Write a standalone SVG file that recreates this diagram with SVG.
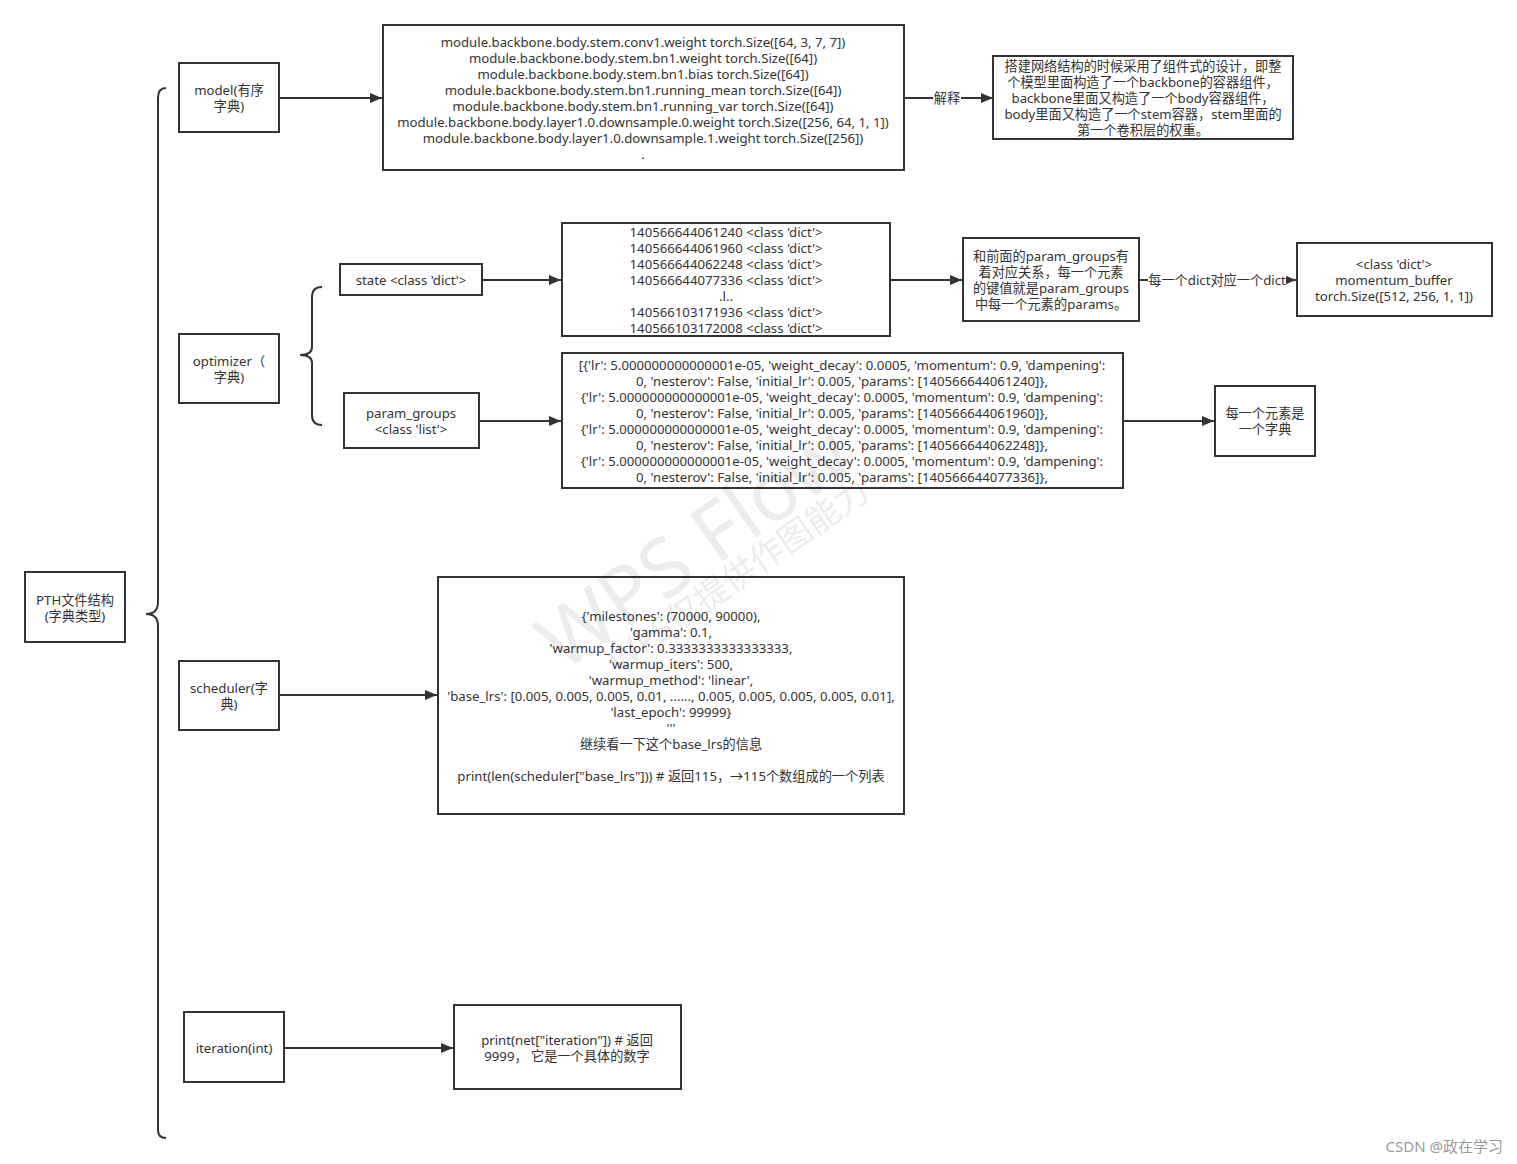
<svg xmlns="http://www.w3.org/2000/svg" width="1517" height="1164" viewBox="0 0 1517 1164">
<style>
.box{fill:#fff;stroke:#333;stroke-width:2}
.t{font-family:"Noto Sans","Noto Sans CJK SC",sans-serif;font-size:13.2px;fill:#333;text-anchor:middle;dominant-baseline:central}
.ln{fill:none;stroke:#333;stroke-width:2}
.wm{font-family:"Noto Sans","Noto Sans CJK SC",sans-serif;fill:#000;opacity:0.07;text-anchor:middle}
</style>
<defs>
<marker id="ah" viewBox="0 0 12 10" refX="12" refY="5" markerWidth="12" markerHeight="10" markerUnits="userSpaceOnUse" orient="auto">
<path d="M0,0 L12,5 L0,10 Z" fill="#333"/>
</marker>
</defs>
<rect width="1517" height="1164" fill="#fff"/>

<g id="connectors">
<path class="ln" d="M166,88 Q158,88 158,98 L158,602 Q158,614 146,614 Q158,614 158,626 L158,1130 Q158,1138 166,1138"/>
<path class="ln" d="M322,287 Q312,287 312,297 L312,347 Q312,355 300,355 Q312,355 312,363 L312,415 Q312,425 322,425"/>
<line class="ln" x1="279" y1="98" x2="382" y2="98" marker-end="url(#ah)"/>
<line class="ln" x1="904" y1="98" x2="993" y2="98" marker-end="url(#ah)"/>
<rect x="933" y="90" width="28" height="16" fill="#fff"/>
<text class="t" x="947" y="98">解释</text>
<line class="ln" x1="482" y1="280" x2="561" y2="280" marker-end="url(#ah)"/>
<line class="ln" x1="890" y1="280" x2="962" y2="280" marker-end="url(#ah)"/>
<line class="ln" x1="1139" y1="280" x2="1296" y2="280" marker-end="url(#ah)"/>
<rect x="1148" y="272" width="138" height="16" fill="#fff"/>
<text class="t" x="1217" y="280">每一个dict对应一个dict</text>
<line class="ln" x1="479" y1="421" x2="561" y2="421" marker-end="url(#ah)"/>
<line class="ln" x1="1123" y1="421" x2="1214" y2="421" marker-end="url(#ah)"/>
<line class="ln" x1="279" y1="695" x2="437" y2="695" marker-end="url(#ah)"/>
<line class="ln" x1="284" y1="1048" x2="453" y2="1048" marker-end="url(#ah)"/>
</g>

<g id="pth">
<rect class="box" x="25" y="572" width="100" height="70"/>
<text class="t" x="75" y="600">PTH文件结构</text>
<text class="t" x="75" y="616">(字典类型)</text>
</g>

<g id="model">
<rect class="box" x="179" y="63" width="100" height="69"/>
<text class="t" x="229" y="90">model(有序</text>
<text class="t" x="229" y="106">字典)</text>
</g>

<g id="model-content">
<rect class="box" x="383" y="25" width="521" height="145"/>
<text class="t" x="643" y="42">module.backbone.body.stem.conv1.weight torch.Size([64, 3, 7, 7])</text>
<text class="t" x="643" y="58">module.backbone.body.stem.bn1.weight torch.Size([64])</text>
<text class="t" x="643" y="74">module.backbone.body.stem.bn1.bias torch.Size([64])</text>
<text class="t" x="643" y="90">module.backbone.body.stem.bn1.running_mean torch.Size([64])</text>
<text class="t" x="643" y="106">module.backbone.body.stem.bn1.running_var torch.Size([64])</text>
<text class="t" x="643" y="122">module.backbone.body.layer1.0.downsample.0.weight torch.Size([256, 64, 1, 1])</text>
<text class="t" x="643" y="138">module.backbone.body.layer1.0.downsample.1.weight torch.Size([256])</text>
<text class="t" x="643" y="154">.</text>
</g>

<g id="model-explain">
<rect class="box" x="993" y="56" width="300" height="83"/>
<text class="t" x="1143" y="66">搭建网络结构的时候采用了组件式的设计，即整</text>
<text class="t" x="1143" y="82">个模型里面构造了一个backbone的容器组件，</text>
<text class="t" x="1143" y="98">backbone里面又构造了一个body容器组件，</text>
<text class="t" x="1143" y="114">body里面又构造了一个stem容器，stem里面的</text>
<text class="t" x="1143" y="130">第一个卷积层的权重。</text>
</g>

<g id="optimizer">
<rect class="box" x="179" y="334" width="100" height="69"/>
<text class="t" x="229" y="361">optimizer（</text>
<text class="t" x="229" y="377">字典)</text>
</g>

<g id="state">
<rect class="box" x="340" y="264" width="142" height="31"/>
<text class="t" x="411" y="280">state &lt;class 'dict'&gt;</text>
</g>

<g id="state-content">
<rect class="box" x="562" y="223" width="328" height="113"/>
<text class="t" x="726" y="232">140566644061240 &lt;class 'dict'&gt;</text>
<text class="t" x="726" y="248">140566644061960 &lt;class 'dict'&gt;</text>
<text class="t" x="726" y="264">140566644062248 &lt;class 'dict'&gt;</text>
<text class="t" x="726" y="280">140566644077336 &lt;class 'dict'&gt;</text>
<text class="t" x="726" y="296">.l..</text>
<text class="t" x="726" y="312">140566103171936 &lt;class 'dict'&gt;</text>
<text class="t" x="726" y="328">140566103172008 &lt;class 'dict'&gt;</text>
</g>

<g id="state-relation">
<rect class="box" x="963" y="238" width="176" height="83"/>
<text class="t" x="1051" y="256">和前面的param_groups有</text>
<text class="t" x="1051" y="272">着对应关系，每一个元素</text>
<text class="t" x="1051" y="288">的键值就是param_groups</text>
<text class="t" x="1051" y="304">中每一个元素的params。</text>
</g>

<g id="state-dict">
<rect class="box" x="1297" y="243" width="195" height="73"/>
<text class="t" x="1394" y="264">&lt;class 'dict'&gt;</text>
<text class="t" x="1394" y="280">momentum_buffer</text>
<text class="t" x="1394" y="296">torch.Size([512, 256, 1, 1])</text>
</g>

<g id="param-groups">
<rect class="box" x="344" y="393" width="135" height="55"/>
<text class="t" x="411" y="413">param_groups</text>
<text class="t" x="411" y="429">&lt;class 'list'&gt;</text>
</g>

<g id="param-groups-content">
<rect class="box" x="562" y="353" width="561" height="135"/>
<text class="t" x="842" y="365">[{'lr': 5.000000000000001e-05, 'weight_decay': 0.0005, 'momentum': 0.9, 'dampening':</text>
<text class="t" x="842" y="381">0, 'nesterov': False, 'initial_lr': 0.005, 'params': [140566644061240]},</text>
<text class="t" x="842" y="397">{'lr': 5.000000000000001e-05, 'weight_decay': 0.0005, 'momentum': 0.9, 'dampening':</text>
<text class="t" x="842" y="413">0, 'nesterov': False, 'initial_lr': 0.005, 'params': [140566644061960]},</text>
<text class="t" x="842" y="429">{'lr': 5.000000000000001e-05, 'weight_decay': 0.0005, 'momentum': 0.9, 'dampening':</text>
<text class="t" x="842" y="445">0, 'nesterov': False, 'initial_lr': 0.005, 'params': [140566644062248]},</text>
<text class="t" x="842" y="461">{'lr': 5.000000000000001e-05, 'weight_decay': 0.0005, 'momentum': 0.9, 'dampening':</text>
<text class="t" x="842" y="477">0, 'nesterov': False, 'initial_lr': 0.005, 'params': [140566644077336]},</text>
</g>

<g id="param-groups-note">
<rect class="box" x="1215" y="386" width="100" height="70"/>
<text class="t" x="1265" y="413">每一个元素是</text>
<text class="t" x="1265" y="429">一个字典</text>
</g>

<g id="scheduler">
<rect class="box" x="179" y="661" width="100" height="69"/>
<text class="t" x="229" y="688">scheduler(字</text>
<text class="t" x="229" y="704">典)</text>
</g>

<g id="scheduler-content">
<rect class="box" x="438" y="577" width="466" height="237"/>
<text class="t" x="671" y="616">{'milestones': (70000, 90000),</text>
<text class="t" x="671" y="632">'gamma': 0.1,</text>
<text class="t" x="671" y="648">'warmup_factor': 0.3333333333333333,</text>
<text class="t" x="671" y="664">'warmup_iters': 500,</text>
<text class="t" x="671" y="680">'warmup_method': 'linear',</text>
<text class="t" x="671" y="696">'base_lrs': [0.005, 0.005, 0.005, 0.01, ......, 0.005, 0.005, 0.005, 0.005, 0.01],</text>
<text class="t" x="671" y="712">'last_epoch': 99999}</text>
<text class="t" x="671" y="728">'''</text>
<text class="t" x="671" y="744">继续看一下这个base_lrs的信息</text>
<text class="t" x="671" y="776">print(len(scheduler["base_lrs"])) # 返回115，→115个数组成的一个列表</text>
</g>

<g id="iteration">
<rect class="box" x="184" y="1012" width="100" height="70"/>
<text class="t" x="234" y="1048">iteration(int)</text>
</g>

<g id="iteration-content">
<rect class="box" x="454" y="1005" width="227" height="84"/>
<text class="t" x="567" y="1040">print(net["iteration"]) # 返回</text>
<text class="t" x="567" y="1056">9999， 它是一个具体的数字</text>
</g>

<g id="watermark">
<text class="wm" font-size="80" transform="translate(710,570) rotate(-35)">WPS Flow</text>
<text class="wm" font-size="34" transform="translate(745,585) rotate(-35)">WPS仅提供作图能力</text>
</g>

<text x="1503" y="1146" font-family="'Noto Sans','Noto Sans CJK SC',sans-serif" font-size="15" fill="#999" text-anchor="end" dominant-baseline="central">CSDN @政在学习</text>
</svg>
